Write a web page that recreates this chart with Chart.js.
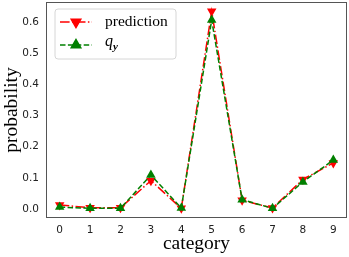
<!DOCTYPE html>
<html>
<head>
<meta charset="utf-8">
<script src="https://cdn.jsdelivr.net/npm/chart.js@4.4.0/dist/chart.umd.min.js"></script>
<style>
html,body{margin:0;padding:0;background:#fff;}
#wrap{width:349px;height:257px;position:relative;}
</style>
</head>
<body>
<div id="wrap"><canvas id="c" width="349" height="257"></canvas></div>
<script>
const categories = [0,1,2,3,4,5,6,7,8,9];
const prediction = [0.013,0.004,0.004,0.091,0.002,0.635,0.028,0.003,0.095,0.148];
const qy = [0.006,0.002,0.002,0.109,0.003,0.607,0.030,0.002,0.087,0.157];
const yTicks = [0.0,0.1,0.2,0.3,0.4,0.5,0.6];
const xTicks = [0,1,2,3,4,5,6,7,8,9];
const seriesNames = ['prediction','q','y'];
const xTitle = 'category';
const yTitle = 'probability';

const RED = '#ff0000', GREEN = '#008000';
const tickFont = {family:'DejaVu Sans', size:10.5};
const AREA = {left:46, right:347, top:2, bottom:218};

const fixArea = {
  id:'fixArea',
  afterLayout(chart){
    const ca = chart.chartArea;
    Object.assign(ca, AREA);
    ca.width = AREA.right-AREA.left; ca.height = AREA.bottom-AREA.top;
    const xs = chart.scales.x, ys = chart.scales.y;
    xs.left=AREA.left; xs.right=AREA.right; xs.width=ca.width;
    xs.top=AREA.bottom; xs.bottom=chart.height; xs.height=chart.height-AREA.bottom;
    ys.left=0; ys.right=AREA.left; ys.width=AREA.left;
    ys.top=AREA.top; ys.bottom=AREA.bottom; ys.height=ca.height;
    xs.configure(); ys.configure();
    xs._labelItems=null; ys._labelItems=null; xs._gridLineItems=null; ys._gridLineItems=null;
  }
};

const titlesAndLegend = {
  id:'titlesAndLegend',
  afterDraw(chart){
    const ctx = chart.ctx, ca = chart.chartArea;
    ctx.save();
    ctx.strokeStyle = '#555'; ctx.lineWidth = 1;
    ctx.strokeRect(Math.round(ca.left)+0.5, Math.round(ca.top)+0.5, Math.round(ca.right-ca.left)-1, Math.round(ca.bottom-ca.top)-1);
    ctx.fillStyle = '#000';
    ctx.font = '19.5px "Liberation Serif", "Times New Roman", serif';
    ctx.textAlign = 'center'; ctx.textBaseline = 'middle';
    ctx.fillText(xTitle, (ca.left+ca.right)/2, 244);
    ctx.translate(12, (ca.top+ca.bottom)/2);
    ctx.rotate(-Math.PI/2);
    ctx.fillText(yTitle, 0, 0);
    ctx.restore();

    ctx.save();
    const bx=55, by=9, bw=121, bh=50, r=3;
    ctx.beginPath();
    ctx.moveTo(bx+r,by); ctx.lineTo(bx+bw-r,by); ctx.arcTo(bx+bw,by,bx+bw,by+r,r);
    ctx.lineTo(bx+bw,by+bh-r); ctx.arcTo(bx+bw,by+bh,bx+bw-r,by+bh,r);
    ctx.lineTo(bx+r,by+bh); ctx.arcTo(bx,by+bh,bx,by+bh-r,r);
    ctx.lineTo(bx,by+r); ctx.arcTo(bx,by,bx+r,by,r); ctx.closePath();
    ctx.fillStyle='rgba(255,255,255,0.8)'; ctx.fill();
    ctx.strokeStyle='#d6d6d6'; ctx.lineWidth=1; ctx.stroke();

    const rows=[{y:22,color:RED,dash:[9.6,2.4,1.5,2.4],rot:180},{y:45,color:GREEN,dash:[5.5,2.4],rot:0}];
    rows.forEach(rw=>{
      ctx.strokeStyle=rw.color; ctx.lineWidth=1.5; ctx.setLineDash(rw.dash);
      ctx.beginPath(); ctx.moveTo(60,rw.y); ctx.lineTo(92,rw.y); ctx.stroke();
      ctx.setLineDash([]);
      Chart.helpers.drawPoint(ctx,{pointStyle:'triangle',radius:5.5,rotation:rw.rot,borderWidth:1},76,rw.y);
      ctx.fillStyle=rw.color; ctx.fill();
    });
    ctx.fillStyle='#000'; ctx.textAlign='left'; ctx.textBaseline='middle';
    ctx.font='15.5px "Liberation Serif", "Times New Roman", serif';
    ctx.fillText(seriesNames[0],105,22);
    ctx.font='italic 16px "Liberation Serif", "Times New Roman", serif';
    ctx.fillText(seriesNames[1],105,42);
    ctx.font='italic bold 11px "Liberation Serif", "Times New Roman", serif';
    ctx.fillText(seriesNames[2],113,47);
    ctx.restore();
  }
};

new Chart(document.getElementById('c'),{
  type:'line',
  data:{
    datasets:[
      {label:seriesNames[0],data:categories.map((c,i)=>({x:c,y:prediction[i]})),
       borderColor:RED,backgroundColor:RED,borderWidth:1.5,borderDash:[9.6,2.4,1.5,2.4],
       pointStyle:'triangle',rotation:180,pointRadius:5.5,pointBorderWidth:0,order:2,tension:0},
      {label:'q_y',data:categories.map((c,i)=>({x:c,y:qy[i]})),
       borderColor:GREEN,backgroundColor:GREEN,borderWidth:1.5,borderDash:[5.5,2.4],
       pointStyle:'triangle',rotation:0,pointRadius:5.5,pointBorderWidth:0,order:1,tension:0}
    ]
  },
  options:{
    responsive:false,animation:false,
    layout:{padding:0},
    plugins:{legend:{display:false},tooltip:{enabled:false}},
    scales:{
      x:{type:'linear',min:-0.45,max:9.45,
         afterBuildTicks(s){s.ticks=xTicks.map(v=>({value:v}));},
         grid:{display:false,drawTicks:true,tickLength:4,tickColor:'#333'},
         border:{display:false},
         ticks:{font:tickFont,color:'#222',padding:2,maxRotation:0,autoSkip:false,callback:v=>String(v)}},
      y:{type:'linear',min:-0.029,max:0.665,
         afterBuildTicks(s){s.ticks=yTicks.map(v=>({value:v}));},
         grid:{display:false,drawTicks:true,tickLength:4,tickColor:'#333'},
         border:{display:false},
         ticks:{font:tickFont,color:'#222',padding:3,autoSkip:false,callback:v=>v.toFixed(1)}}
    }
  },
  plugins:[fixArea, titlesAndLegend]
});
</script>
</body>
</html>
